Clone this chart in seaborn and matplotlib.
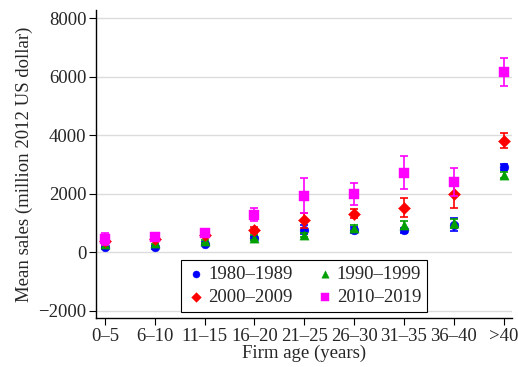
import numpy as np
import pandas as pd
import matplotlib
matplotlib.use("Agg")
import matplotlib.pyplot as plt
import seaborn as sns

age_groups = ["0\u20135", "6\u201310", "11\u201315", "16\u201320", "21\u201325",
              "26\u201330", "31\u201335", "36\u201340", ">40"]
decades = ["1980\u20131989", "1990\u20131999", "2000\u20132009", "2010\u20132019"]

sales_1980s = [160, 160, 285, 470, 766, 755, 740, 940, 2918]
sales_1990s = [285, 320, 367, 500, 583, 813, 930, 990, 2633]
sales_2000s = [378, 435, 583, 766, 1087, 1315, 1521, 1980, 3810]
sales_2010s = [457, 515, 663, 1281, 1933, 2001, 2722, 2414, 6155]

err_1980s = [50, 50, 50, 70, 150, 90, 80, 220, 100]
err_1990s = [50, 50, 50, 70, 80, 100, 130, 150, 100]
err_2000s = [60, 60, 60, 100, 250, 150, 330, 480, 250]
err_2010s = [200, 120, 80, 220, 590, 380, 560, 480, 470]

series = {
    decades[0]: (sales_1980s, err_1980s),
    decades[1]: (sales_1990s, err_1990s),
    decades[2]: (sales_2000s, err_2000s),
    decades[3]: (sales_2010s, err_2010s),
}
palette = {decades[0]: "#0000ff", decades[1]: "#00a000",
           decades[2]: "#ff0000", decades[3]: "#ff00ff"}
markers = {decades[0]: "o", decades[1]: "^", decades[2]: "D", decades[3]: "s"}
sizes = {decades[0]: 40, decades[1]: 44, decades[2]: 38, decades[3]: 60}

rows = []
for dec, (vals, errs) in series.items():
    for g, v, e in zip(age_groups, vals, errs):
        rows.append({"age": g, "sales": v, "err": e, "decade": dec})
df = pd.DataFrame(rows)

sns.set_theme(style="white")
plt.rcParams["font.family"] = ["Liberation Serif", "DejaVu Serif"]

FS = 13.5
fig = plt.figure(figsize=(5.18, 3.67), dpi=100)
ax = fig.add_axes([0.1853, 0.1335, 0.8031, 0.8393])

for i, dec in enumerate(decades):
    sub = df[df["decade"] == dec]
    xpos = [age_groups.index(a) for a in sub["age"]]
    ax.errorbar(xpos, sub["sales"], yerr=sub["err"], fmt="none",
                ecolor=palette[dec], elinewidth=1.2, capsize=3, capthick=1.2,
                zorder=2 + i)
    sns.scatterplot(x=xpos, y=sub["sales"].values, ax=ax, color=palette[dec],
                    marker=markers[dec], s=sizes[dec], linewidth=0.3,
                    edgecolor=palette[dec], label=dec, zorder=3 + i)

ax.set_xlim(-0.18, 8.17)
ax.set_ylim(-2254, 8284)
ax.set_xticks(range(len(age_groups)))
ax.set_xticklabels(age_groups)
ax.set_yticks([-2000, 0, 2000, 4000, 6000, 8000])
ax.set_yticklabels(["\u22122000", "0", "2000", "4000", "6000", "8000"])
ax.yaxis.grid(True, color="#dcdcdc", linewidth=1.0)
ax.xaxis.grid(False)
ax.set_axisbelow(True)

for side in ["top", "right"]:
    ax.spines[side].set_visible(False)
for side in ["left", "bottom"]:
    ax.spines[side].set_color("black")
    ax.spines[side].set_linewidth(1.0)

ax.tick_params(axis="both", which="major", direction="out", length=5,
               width=0.8, color="black", labelsize=FS, pad=2,
               bottom=True, left=True)
ax.set_xlabel("Firm age (years)", fontsize=FS, labelpad=0)
ax.set_ylabel("Mean sales (million 2012 US dollar)", fontsize=FS, labelpad=4)

# legend filled row by row: 1980s, 1990s / 2000s, 2010s
handles, labels = ax.get_legend_handles_labels()
order = [0, 2, 1, 3]
leg = ax.legend([handles[k] for k in order], [labels[k] for k in order],
                ncol=2, loc="lower left",
                bbox_to_anchor=(0.182, -0.011), fontsize=FS,
                frameon=True, fancybox=False, framealpha=1,
                edgecolor="black", handletextpad=0.15, columnspacing=1.2,
                borderpad=0.3, labelspacing=0.35, handlelength=1.0,
                markerscale=0.8)
leg.get_frame().set_linewidth(0.8)

fig.savefig("out.png", dpi=100)
